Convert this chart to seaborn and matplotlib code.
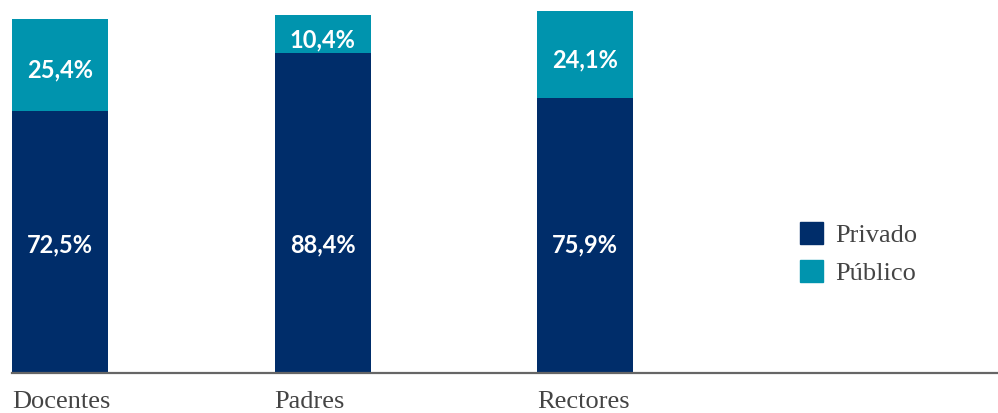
import matplotlib
matplotlib.use("Agg")
import matplotlib.pyplot as plt
import pandas as pd
import seaborn as sns
from matplotlib.patches import Patch

categories = ["Docentes", "Padres", "Rectores"]
privado = [72.5, 88.4, 75.9]
publico = [25.4, 10.4, 24.1]

NAVY = "#002d6a"
TEAL = "#0094ae"

df = pd.DataFrame({"grupo": categories, "privado": privado, "publico": publico})
df["total"] = df["privado"] + df["publico"]

sns.set_theme(style="white")
plt.rcParams["font.family"] = ["Lato", "DejaVu Sans"]

fig = plt.figure(figsize=(9.98, 4.13), dpi=100)
ax = fig.add_axes([12 / 998, 40 / 413, 985 / 998, (373 - 11) / 413])

w = 96 / 262.5
sns.barplot(data=df, x="grupo", y="total", color=TEAL, width=w, saturation=1,
            linewidth=0, ax=ax)
sns.barplot(data=df, x="grupo", y="privado", color=NAVY, width=w, saturation=1,
            linewidth=0, ax=ax)

# private labels sit at a common height in the original
for i, (pv, pb) in enumerate(zip(privado, publico)):
    ax.text(i, 35.5, f"{pv:.1f}%".replace(".", ","), ha="center", va="center",
            color="white", fontsize=17, fontweight="bold")
    ax.text(i, pv + pb / 2 - 1.6, f"{pb:.1f}%".replace(".", ","), ha="center", va="center",
            color="white", fontsize=17, fontweight="bold")

ax.set_xlim(-w / 2, -w / 2 + 985 / 262.5)
ax.set_ylim(0, 100)
ax.set_xlabel("")
ax.set_ylabel("")
ax.set_yticks([])
ax.set_xticks(range(3))
ax.set_xticklabels([])
ax.tick_params(axis="x", length=0)
for s in ["top", "right", "left"]:
    ax.spines[s].set_visible(False)
ax.spines["bottom"].set_color("#666666")
ax.spines["bottom"].set_linewidth(1.6)

serif = ["Liberation Serif", "DejaVu Serif"]
for i, c in enumerate(categories):
    ax.text(i - w / 2, -0.05, c, transform=ax.get_xaxis_transform(), ha="left", va="top",
            fontsize=19, color="#444444", family=serif)

handles = [Patch(color=NAVY, label="Privado"), Patch(color=TEAL, label="Público")]
leg = fig.legend(handles=handles, loc="upper left", bbox_to_anchor=(800 / 998, 1 - 222 / 413),
                 frameon=False, borderpad=0, borderaxespad=0,
                 handlelength=0.88, handleheight=0.88, handletextpad=0.45, labelspacing=0.5,
                 prop={"family": serif, "size": 19})
for t in leg.get_texts():
    t.set_color("#444444")

fig.savefig("out.png", dpi=100)
